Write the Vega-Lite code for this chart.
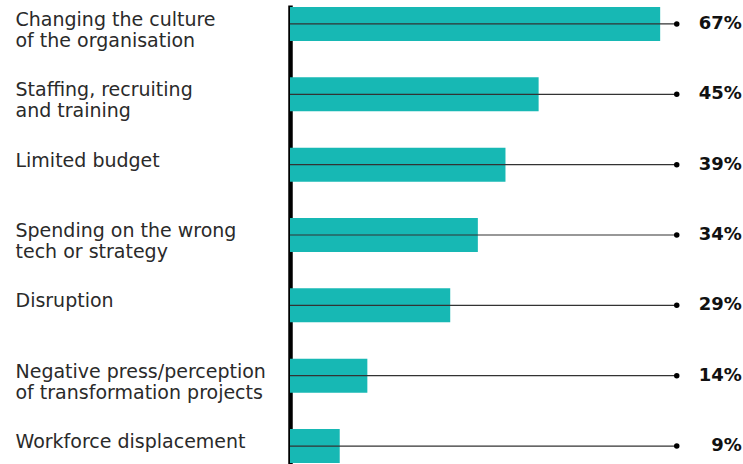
{
  "$schema": "https://vega.github.io/schema/vega-lite/v6.json",
  "autosize": "none",
  "width": 442,
  "height": 460,
  "padding": {"left": 290, "top": 5, "right": 11, "bottom": 0},
  "background": "white",
  "config": {"view": {"stroke": null}},
  "data": {
    "values": [
      {"label": "Changing the culture\nof the organisation", "value": 67, "end": 70, "pct": "67%"},
      {"label": "Staffing, recruiting\nand training", "value": 45, "end": 70, "pct": "45%"},
      {"label": "Limited budget", "value": 39, "end": 70, "pct": "39%"},
      {"label": "Spending on the wrong\ntech or strategy", "value": 34, "end": 70, "pct": "34%"},
      {"label": "Disruption", "value": 29, "end": 70, "pct": "29%"},
      {"label": "Negative press/perception\nof transformation projects", "value": 14, "end": 70, "pct": "14%"},
      {"label": "Workforce displacement", "value": 9, "end": 70, "pct": "9%"}
    ]
  },
  "encoding": {
    "y": {
      "field": "label",
      "type": "nominal",
      "sort": null,
      "scale": {"paddingInner": 0.517, "paddingOuter": 0.028},
      "axis": {
        "title": null,
        "ticks": false,
        "grid": false,
        "domain": true,
        "domainColor": "#000000",
        "domainWidth": 4.5,
        "labelAlign": "left",
        "labelPadding": 275,
        "labelBaseline": "middle",
        "labelFont": "DejaVu Sans",
        "labelFontSize": 19,
        "labelColor": "#2a2a2a",
        "labelLineHeight": 21,
        "labelOffset": -4,
        "labelLimit": 400,
        "labelExpr": "split(datum.label, '\\n')"
      }
    }
  },
  "layer": [
    {
      "mark": {"type": "bar", "color": "#17b8b4"},
      "encoding": {
        "x": {"field": "value", "type": "quantitative", "scale": {"domain": [0, 80]}, "axis": null}
      }
    },
    {
      "mark": {"type": "rule", "color": "#333333", "strokeWidth": 1.2},
      "encoding": {
        "x": {"field": "end", "type": "quantitative"},
        "x2": {"datum": 0}
      }
    },
    {
      "mark": {"type": "point", "filled": true, "color": "#000000", "size": 30, "opacity": 1},
      "encoding": {
        "x": {"field": "end", "type": "quantitative"}
      }
    },
    {
      "mark": {"type": "text", "align": "right", "baseline": "middle", "dx": 65, "font": "DejaVu Sans", "fontSize": 18, "fontWeight": "bold", "color": "#111111"},
      "encoding": {
        "x": {"field": "end", "type": "quantitative"},
        "text": {"field": "pct"}
      }
    }
  ]
}
